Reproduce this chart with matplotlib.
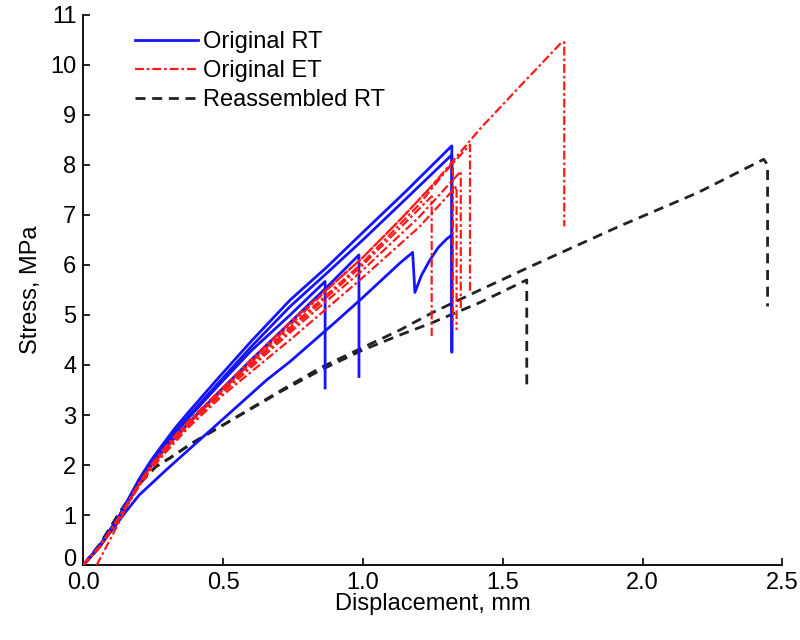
import matplotlib
matplotlib.use("Agg")
import matplotlib.pyplot as plt
import matplotlib.transforms as mtransforms

plt.rcParams['font.family'] = ['Liberation Sans', 'DejaVu Sans']

# ---- Original RT (blue) ----
rt1_x = [0, 0.06, 0.13, 0.2, 0.24, 0.28, 0.33, 0.38, 0.48, 0.6, 0.74, 0.87, 1.0, 1.15, 1.318, 1.318]
rt1_y = [0, 0.4, 1.0, 1.72, 2.07, 2.38, 2.75, 3.08, 3.72, 4.47, 5.3, 5.95, 6.65, 7.45, 8.38, 4.26]
rt2_x = [0, 0.06, 0.13, 0.2, 0.24, 0.28, 0.33, 0.38, 0.48, 0.6, 0.74, 0.87, 1.0, 1.15, 1.318, 1.318]
rt2_y = [0, 0.39, 0.98, 1.69, 2.03, 2.33, 2.68, 3.0, 3.62, 4.36, 5.17, 5.83, 6.5, 7.3, 8.2, 4.3]
rt3_x = [0, 0.06, 0.13, 0.2, 0.24, 0.28, 0.33, 0.38, 0.48, 0.6, 0.74, 0.865, 0.865]
rt3_y = [0, 0.38, 0.98, 1.68, 2.01, 2.3, 2.64, 2.96, 3.57, 4.28, 5.0, 5.67, 3.54]
rt4_x = [0, 0.06, 0.13, 0.2, 0.24, 0.28, 0.33, 0.38, 0.48, 0.6, 0.74, 0.87, 0.986, 0.986]
rt4_y = [0, 0.37, 0.96, 1.63, 1.96, 2.24, 2.56, 2.86, 3.43, 4.1, 4.85, 5.55, 6.2, 3.77]
rt5_x = [0, 0.06, 0.15, 0.2, 0.3, 0.45, 0.656, 0.74, 0.9, 1.0, 1.133, 1.178, 1.186,
         1.21, 1.24, 1.27, 1.30, 1.318, 1.318]
rt5_y = [0, 0.38, 1.05, 1.4, 1.92, 2.67, 3.7, 4.07, 4.85, 5.35, 6.04, 6.25, 5.45,
         5.8, 6.1, 6.35, 6.52, 6.6, 4.3]

# ---- Original ET (red) ----
et1_x = [0.048, 0.1, 0.174, 0.22, 0.3, 0.4, 0.5, 0.6, 0.75, 0.9, 1.0, 1.133, 1.25,
         1.419, 1.55, 1.711, 1.72, 1.72]
et1_y = [0, 0.55, 1.37, 1.8, 2.35, 2.95, 3.5, 4.05, 4.85, 5.65, 6.15, 6.9, 7.6,
         8.72, 9.5, 10.45, 10.45, 6.77]
et2_x = [0, 0.06, 0.13, 0.2, 0.24, 0.28, 0.33, 0.38, 0.5, 0.6, 0.75, 0.9, 1.0, 1.15, 1.3, 1.383, 1.383]
et2_y = [0, 0.38, 0.97, 1.64, 1.98, 2.27, 2.6, 2.9, 3.55, 4.1, 4.9, 5.65, 6.15, 7.0, 7.9, 8.4, 5.43]
et3_x = [0, 0.06, 0.13, 0.2, 0.24, 0.28, 0.33, 0.38, 0.5, 0.75, 1.0, 1.2, 1.35, 1.35]
et3_y = [0, 0.37, 0.95, 1.6, 1.92, 2.2, 2.52, 2.82, 3.45, 4.7, 5.9, 6.95, 7.87, 5.1]
et4_x = [0, 0.06, 0.13, 0.2, 0.24, 0.28, 0.33, 0.38, 0.5, 0.75, 1.0, 1.2, 1.335, 1.335]
et4_y = [0, 0.36, 0.94, 1.58, 1.89, 2.16, 2.47, 2.77, 3.4, 4.55, 5.75, 6.75, 7.57, 4.7]
et5_x = [0, 0.06, 0.13, 0.2, 0.24, 0.28, 0.33, 0.38, 0.5, 0.75, 1.0, 1.246, 1.246]
et5_y = [0, 0.37, 0.96, 1.62, 1.94, 2.22, 2.55, 2.86, 3.5, 4.75, 6.0, 7.37, 4.58]
et6_x = [0, 0.06, 0.13, 0.2, 0.24, 0.28, 0.33, 0.38, 0.5, 0.75, 1.0, 1.2, 1.322, 1.322]
et6_y = [0, 0.38, 0.97, 1.63, 1.96, 2.25, 2.57, 2.88, 3.52, 4.8, 6.05, 7.2, 8.05, 4.8]

# ---- Reassembled RT (black) ----
ra1_x = [0, 0.06, 0.13, 0.2, 0.26, 0.31, 0.39, 0.5, 0.71, 0.85, 1.0, 1.133, 1.25,
         1.419, 1.6, 1.92, 2.2, 2.433, 2.447, 2.447]
ra1_y = [0, 0.42, 1.05, 1.62, 1.97, 2.14, 2.44, 2.8, 3.5, 3.95, 4.35, 4.7, 5.05,
         5.5, 5.97, 6.78, 7.45, 8.11, 8.0, 5.17]
ra2_x = [0, 0.06, 0.13, 0.2, 0.26, 0.31, 0.39, 0.5, 0.71, 0.85, 1.0, 1.133, 1.25,
         1.419, 1.586, 1.586]
ra2_y = [0, 0.42, 1.05, 1.62, 1.97, 2.14, 2.44, 2.8, 3.48, 3.9, 4.3, 4.6, 4.85,
         5.25, 5.7, 3.57]

series_labels = ["Original RT", "Original ET", "Reassembled RT"]
x_ticks = [0.0, 0.5, 1.0, 1.5, 2.0, 2.5]
y_ticks = list(range(0, 12))

fig = plt.figure(figsize=(8, 6.4), dpi=100)
ax = fig.add_axes([0.104, 0.117, 0.874, 0.860])

blue = '#1414ff'
red = '#ff1a1a'
et_ls = (0, (4, 1.3, 1.2, 1.3))
ra_ls = (0, (3.6, 2.4))

rt = [(rt1_x, rt1_y), (rt2_x, rt2_y), (rt3_x, rt3_y), (rt4_x, rt4_y), (rt5_x, rt5_y)]
et = [(et1_x, et1_y), (et2_x, et2_y), (et3_x, et3_y), (et4_x, et4_y), (et5_x, et5_y), (et6_x, et6_y)]
ra = [(ra1_x, ra1_y), (ra2_x, ra2_y)]

for i, (x, y) in enumerate(ra):
    ax.plot(x, y, color='#222222', lw=2.0, ls=ra_ls,
            label=series_labels[2] if i == 0 else None, zorder=2)
for i, (x, y) in enumerate(rt):
    ax.plot(x, y, color=blue, lw=2.0, ls='-',
            label=series_labels[0] if i == 0 else None, zorder=3)
for i, (x, y) in enumerate(et):
    ax.plot(x, y, color=red, lw=1.6, ls=et_ls,
            label=series_labels[1] if i == 0 else None, zorder=4)

ax.set_xlim(0, 2.5)
ax.set_ylim(0, 11)
ax.set_xticks(x_ticks)
ax.set_xticklabels([f"{v:.1f}" for v in x_ticks])
ax.set_yticks(y_ticks)
ax.tick_params(direction='in', length=5, width=1.2, labelsize=17, colors='black')
ax.tick_params(axis='x', pad=5)
ax.tick_params(axis='y', pad=5)
for s in ['top', 'right']:
    ax.spines[s].set_visible(False)
for s in ['left', 'bottom']:
    ax.spines[s].set_linewidth(1.3)

# lift the "0" y tick label slightly, as in the reference
ylabels = ax.get_yticklabels()
ylabels[0].set_transform(ylabels[0].get_transform() +
                         mtransforms.ScaledTranslation(0, 8 / 100, fig.dpi_scale_trans))

ax.set_xlabel("Displacement, mm", fontsize=17, labelpad=-1)
ax.set_ylabel("Stress, MPa", fontsize=17, labelpad=6)

h, l = ax.get_legend_handles_labels()
order = [l.index(s) for s in series_labels]
ax.legend([h[i] for i in order], [l[i] for i in order], loc='upper left',
          bbox_to_anchor=(0.074, 0.97), frameon=False, fontsize=17,
          handlelength=2.65, handletextpad=0.25, labelspacing=0.3,
          borderaxespad=0, borderpad=0)

fig.savefig("out.png", dpi=100)
